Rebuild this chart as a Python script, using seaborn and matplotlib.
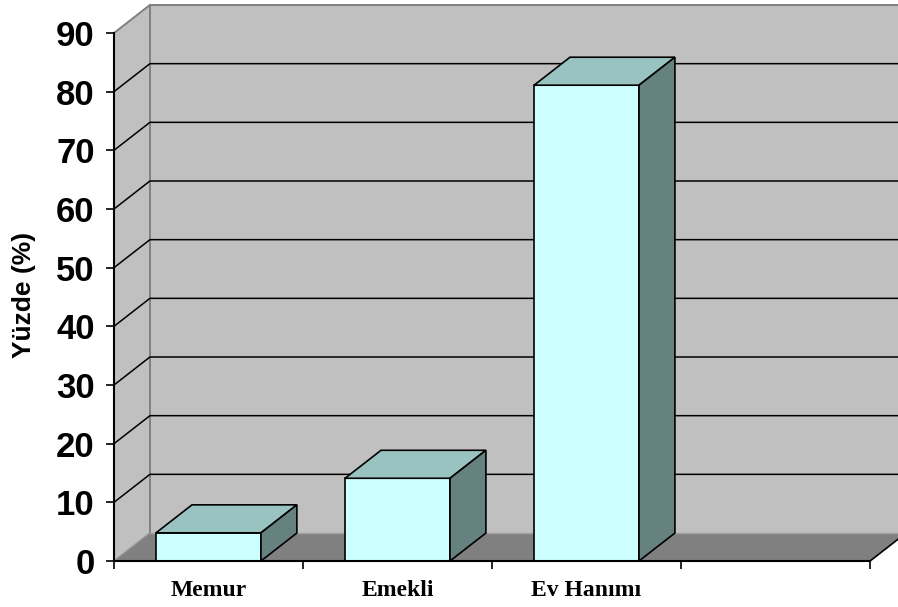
import matplotlib
matplotlib.use("Agg")
import matplotlib.pyplot as plt
from matplotlib.patches import Polygon
import seaborn as sns
import pandas as pd

# Data
categories = ["Memur", "Emekli", "Ev Hanımı"]
values = [4.8, 14.1, 81.1]
y_ticks = [0, 10, 20, 30, 40, 50, 60, 70, 80, 90]

sns.set_style("white")
plt.rcParams["font.family"] = ["Liberation Sans", "DejaVu Sans"]
plt.rcParams["text.color"] = "black"
plt.rcParams["axes.labelcolor"] = "black"
plt.rcParams["xtick.color"] = "black"
plt.rcParams["ytick.color"] = "black"

# 3D depth offset (data units) and colours
DX, DY = 0.19, 4.77
N_SLOTS = 4
WALL = "#C0C0C0"
FLOOR = "#808080"
FRONT = "#CCFFFF"
TOP = "#99C3C1"
SIDE = "#668280"

fig = plt.figure(figsize=(8.98, 6.07), dpi=100)
ax = fig.add_axes([114 / 898, 46 / 607, (906 - 114) / 898, (602 - 46) / 607])

df = pd.DataFrame({"cat": categories, "val": values})
sns.barplot(data=df, x="cat", y="val", order=categories, color=FRONT,
            saturation=1, width=0.555, edgecolor="black", linewidth=1.2,
            ax=ax, zorder=3)
bars = list(ax.patches)
for b in bars:
    b.set_facecolor(FRONT)
    b.set_zorder(3)

x0, x1 = -0.5, N_SLOTS - 0.5
ymax = 90

# Walls and floor
ax.add_patch(Polygon([(x0, 0), (x0 + DX, DY), (x0 + DX, ymax + DY), (x0, ymax)],
                     closed=True, facecolor=WALL, edgecolor="none", zorder=0))
ax.add_patch(Polygon([(x0 + DX, DY), (x1 + DX + 0.2, DY), (x1 + DX + 0.2, ymax + DY),
                      (x0 + DX, ymax + DY)],
                     closed=True, facecolor=WALL, edgecolor="none", zorder=0))
ax.add_patch(Polygon([(x0, 0), (x1, 0), (x1 + DX, DY), (x0 + DX, DY)],
                     closed=True, facecolor=FLOOR, edgecolor="none", zorder=0.5))
# wall borders
ax.plot([x0 + DX, x0 + DX, x1 + DX + 0.2], [DY, ymax + DY, ymax + DY],
        color="#808080", lw=1.4, zorder=1, clip_on=False, solid_capstyle="butt")
ax.plot([x0, x0 + DX], [ymax, ymax + DY], color="#808080", lw=1.4, zorder=1, clip_on=False)
ax.plot([x0 + DX, x1 + DX + 0.2], [DY, DY], color="#A0A0A0", lw=1.0, zorder=1)
ax.plot([x0, x0 + DX], [0, DY], color="#909090", lw=1.0, zorder=1)
ax.plot([x1, x1 + DX], [0, DY], color="black", lw=1.2, zorder=1, clip_on=False)

# Gridlines along the side and back walls
for v in y_ticks[1:-1]:
    ax.plot([x0, x0 + DX, x1 + DX + 0.2], [v, v + DY, v + DY],
            color="black", lw=1.1, zorder=1, clip_on=False)

# Top and side faces of each bar
for b in bars:
    bx, bw, bh = b.get_x(), b.get_width(), b.get_height()
    ax.add_patch(Polygon([(bx, bh), (bx + bw, bh), (bx + bw + DX, bh + DY), (bx + DX, bh + DY)],
                         closed=True, facecolor=TOP, edgecolor="black", lw=1.2, zorder=3))
    ax.add_patch(Polygon([(bx + bw, 0), (bx + bw + DX, DY), (bx + bw + DX, bh + DY), (bx + bw, bh)],
                         closed=True, facecolor=SIDE, edgecolor="black", lw=1.2, zorder=3))

ax.set_xlim(x0, x1 + DX)
ax.set_ylim(0, ymax + DY)

# Axes lines
for s in ["top", "right"]:
    ax.spines[s].set_visible(False)
ax.spines["left"].set_bounds(0, ymax)
ax.spines["bottom"].set_bounds(x0, x1)
for s in ["left", "bottom"]:
    ax.spines[s].set_linewidth(1.5)
    ax.spines[s].set_color("black")
    ax.spines[s].set_zorder(4)

ax.set_yticks(y_ticks)
ax.set_yticklabels([str(t) for t in y_ticks], fontsize=25, fontweight="bold", color="black")
ax.tick_params(axis="y", direction="out", length=6, width=1.2, color="black", pad=8, left=True)

ax.set_xticks(range(len(categories)))
ax.set_xticklabels(categories, fontsize=17, fontweight="bold", color="black",
                   family=["Liberation Serif", "DejaVu Serif"])
ax.set_xticks([i - 0.5 for i in range(N_SLOTS + 1)], minor=True)
ax.tick_params(axis="x", which="major", length=0, pad=14)
ax.tick_params(axis="x", which="minor", direction="out", length=6, width=1.2,
               color="black", bottom=True)

ax.set_xlabel("")
ax.set_ylabel("Yüzde (%)", fontsize=19, fontweight="bold", color="black")
ax.yaxis.set_label_coords((36 - 114) / 792, (561 - 295) / 556)

fig.savefig("out.png", dpi=100, facecolor="white")
